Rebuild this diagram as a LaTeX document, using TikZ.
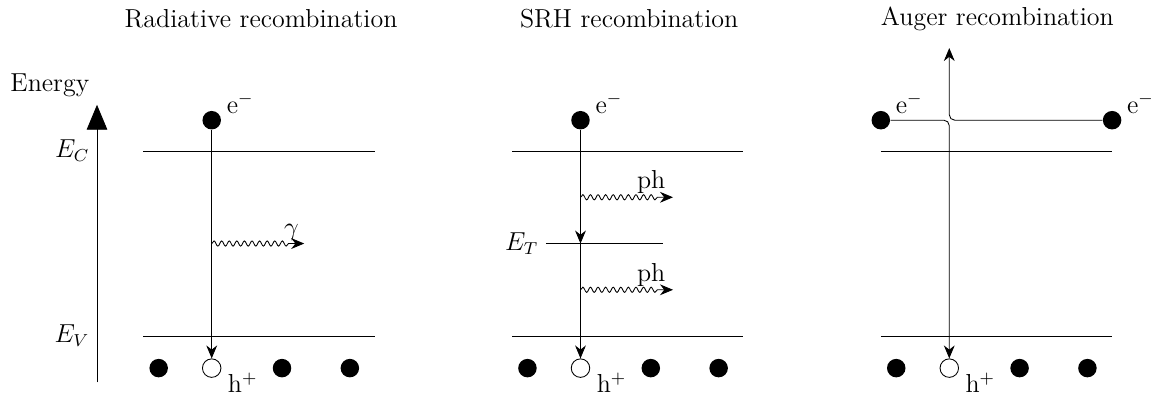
\documentclass[tikz,border=0pt]{standalone}
\usepackage{amsmath,amssymb}
\usepackage{tikz}
\usetikzlibrary{arrows.meta, positioning, calc, decorations.pathmorphing}

\begin{document}
\begin{tikzpicture}[
  font=\fontsize{12}{14}\selectfont,
  elec/.style ={circle, fill, inner sep=0pt, minimum size=0.3cm},
  hole/.style ={circle, draw, fill=white, inner sep=0pt, minimum size=0.3cm},
  lab/.style  ={inner sep=0pt, anchor=base west},
  title/.style={anchor=base},
  lvl/.style  ={thin},
  arr/.style  ={-{Stealth[length=6pt, width=5pt]}},
  phot/.style ={arr, decorate,
                decoration={snake, amplitude=1.2pt, segment length=3.5pt, post length=2.2mm}},
  axis/.style ={-{Triangle[width=9.5pt, length=11.5pt]}}
]
\useasboundingbox (-1.573,-0.037) rectangle (17.091,6.449);

%% ---- Energy axis ----
\coordinate (AXb) at (0,0.25);
\coordinate (AXt) at (0,4.75);
\draw[axis] (AXb) -- (AXt);
\node[above left] (EN)  at (AXt) {Energy};
\node[left]       (ECl) at (0,4) {$E_C$};
\node[left]       (EVl) at (0,1) {$E_V$};

%% ---- Radiative recombination ----
\node[title] (R-title) at (2.66,6.01) {Radiative recombination};
\draw[lvl] (0.75,4) -- (4.5,4);
\draw[lvl] (0.75,1) -- (4.5,1);

\node[elec] (R-e)  at (1.86,4.5)  {};
\node[lab]  (R-el) at ([shift={(0.08,0.11)}]R-e.east) {e$^-$};
\node[elec] (R-h1) at (1,0.48)    {};
\node[hole] (R-h2) at (1.86,0.48) {};
\node[elec] (R-h3) at (3,0.48)    {};
\node[elec] (R-h4) at (4.1,0.48)  {};
\node[lab]  (R-hl) at ([shift={(0.1,-0.4)}]R-h2.east) {h$^+$};

\draw[arr] (R-e) -- (R-h2);
\coordinate (R-p0) at (1.86,2.5);
\coordinate (R-p1) at (3.36,2.5);
\draw[phot] (R-p0) -- (R-p1);
\node[above left, xshift=1pt, yshift=-2pt] (R-gam) at (R-p1) {$\gamma$};

%% ---- SRH recombination ----
\node[title] (S-title) at (8.63,6.01) {SRH recombination};
\draw[lvl] (6.73,4) -- (10.48,4);
\draw[lvl] (6.73,1) -- (10.48,1);
\draw[lvl] (7.28,2.5) -- (9.18,2.5);
\node[left] (ETl) at (7.28,2.5) {$E_T$};

\node[elec] (S-e)  at (7.84,4.5)  {};
\node[lab]  (S-el) at ([shift={(0.08,0.11)}]S-e.east) {e$^-$};
\node[elec] (S-h1) at (6.98,0.48) {};
\node[hole] (S-h2) at (7.84,0.48) {};
\node[elec] (S-h3) at (8.98,0.48) {};
\node[elec] (S-h4) at (10.08,0.48) {};
\node[lab]  (S-hl) at ([shift={(0.1,-0.4)}]S-h2.east) {h$^+$};

\coordinate (S-T) at (7.84,2.5);
\draw[arr] (S-e) -- (S-T);
\draw[arr] (S-T) -- (S-h2);

\coordinate (S-p0) at (7.84,3.25);
\coordinate (S-p1) at (9.34,3.25);
\coordinate (S-q0) at (7.84,1.75);
\coordinate (S-q1) at (9.34,1.75);
\draw[phot] (S-p0) -- (S-p1);
\draw[phot] (S-q0) -- (S-q1);
\node[above left, yshift=-2pt] (S-ph1) at (S-p1) {ph};
\node[above left, yshift=-2pt] (S-ph2) at (S-q1) {ph};

%% ---- Auger recombination ----
\node[title] (A-title) at (14.6,6.04) {Auger recombination};
\draw[lvl] (12.71,4) -- (16.46,4);
\draw[lvl] (12.71,1) -- (16.46,1);

\node[elec] (A-e1)  at (12.71,4.5) {};
\node[lab]  (A-el1) at ([shift={(0.08,0.11)}]A-e1.east) {e$^-$};
\node[elec] (A-e2)  at (16.46,4.5) {};
\node[lab]  (A-el2) at ([shift={(0.08,0.11)}]A-e2.east) {e$^-$};
\node[elec] (A-h1) at (12.96,0.48) {};
\node[hole] (A-h2) at (13.82,0.48) {};
\node[elec] (A-h3) at (14.96,0.48) {};
\node[elec] (A-h4) at (16.06,0.48) {};
\node[lab]  (A-hl) at ([shift={(0.1,-0.4)}]A-h2.east) {h$^+$};

\coordinate (A-top) at (13.82,5.67);
\draw[arr, rounded corners=2.5pt] (A-e1) -| (A-h2);
\draw[arr, rounded corners=2.5pt] (A-e2) -| (A-top);

\end{tikzpicture}
\end{document}
